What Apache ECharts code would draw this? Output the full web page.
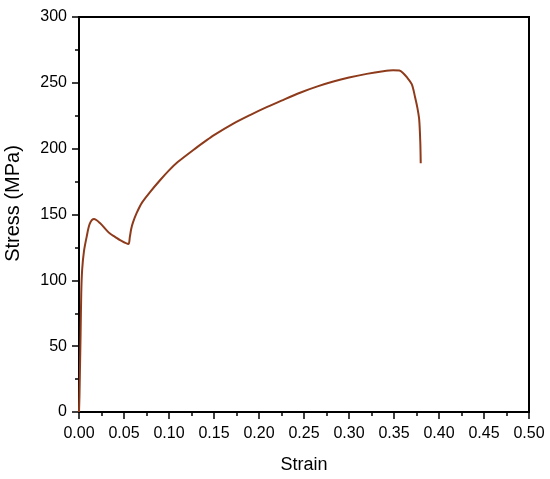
<!DOCTYPE html>
<html>
<head>
<meta charset="utf-8">
<script src="https://cdn.jsdelivr.net/npm/echarts@6/dist/echarts.min.js"></script>
<style>html,body{margin:0;padding:0;background:#fff}#c{width:550px;height:479px}</style>
</head>
<body>
<div id="c"></div>
<script>
var strain = [0, 0.0005, 0.001, 0.0018, 0.0025, 0.0035, 0.0055, 0.0085, 0.012, 0.0167, 0.0233, 0.03, 0.0344, 0.04, 0.0456, 0.0548, 0.0565, 0.058, 0.06, 0.064, 0.07, 0.0789, 0.09, 0.10, 0.11, 0.127, 0.14, 0.15, 0.17, 0.19, 0.2085, 0.225, 0.2456, 0.265, 0.2826, 0.30, 0.3197, 0.338, 0.349, 0.356, 0.360, 0.364, 0.3697, 0.3733, 0.376, 0.378, 0.3792, 0.3797];
var stress = [0, 12, 30, 60, 90, 108, 122, 133, 143, 146.5, 143.5, 138.5, 135.5, 133, 130.5, 127.6, 133, 139, 144, 151, 159, 167, 176, 183.5, 190, 199, 205.5, 210.3, 218.5, 225.5, 231.5, 236.5, 242.5, 247.3, 251, 254, 256.8, 258.8, 259.5, 259.3, 257.5, 254.5, 249, 239.5, 231, 222, 205, 189];
var xTicks = {min: 0, max: 0.5, interval: 0.05};
var yTicks = {min: 0, max: 300, interval: 50};

var data = strain.map(function (s, i) { return [s, stress[i]]; });
var font = '"Liberation Sans", Arial, sans-serif';
var chart = echarts.init(document.getElementById('c'), null, {renderer: 'canvas'});
chart.setOption({
  animation: false,
  backgroundColor: '#fff',
  grid: {left: 79, right: 21, top: 17, bottom: 67, outerBoundsMode: 'none', containLabel: false, show: true, borderColor: '#000', borderWidth: 2, backgroundColor: 'transparent'},
  xAxis: {
    type: 'value', min: xTicks.min, max: xTicks.max, interval: xTicks.interval,
    name: 'Strain', nameLocation: 'middle', nameGap: 44,
    nameTextStyle: {fontFamily: font, fontSize: 18, color: '#000'},
    axisLine: {show: true, onZero: false, lineStyle: {color: '#000', width: 2}},
    axisTick: {show: true, inside: false, length: 7, lineStyle: {color: '#000', width: 1.5}},
    minorTick: {show: true, splitNumber: 2, length: 4, lineStyle: {color: '#000', width: 1.5}},
    splitLine: {show: false},
    axisLabel: {fontFamily: font, fontSize: 16, color: '#000', margin: 14, formatter: function (v) { return v.toFixed(2); }}
  },
  yAxis: {
    type: 'value', min: yTicks.min, max: yTicks.max, interval: yTicks.interval,
    name: 'Stress (MPa)', nameLocation: 'middle', nameGap: 56, nameRotate: 90,
    nameTextStyle: {fontFamily: font, fontSize: 20, color: '#000', padding: [0, 0, 0, 22]},
    axisLine: {show: true, onZero: false, lineStyle: {color: '#000', width: 2}},
    axisTick: {show: true, inside: false, length: 7, lineStyle: {color: '#000', width: 1.5}},
    minorTick: {show: true, splitNumber: 2, length: 4, lineStyle: {color: '#000', width: 1.5}},
    splitLine: {show: false},
    axisLabel: {fontFamily: font, fontSize: 16, color: '#000', margin: 12}
  },
  series: [{
    type: 'line', data: data, showSymbol: false, smooth: 0.3,
    lineStyle: {color: '#8e3b1c', width: 2}
  }]
});
</script>
</body>
</html>
